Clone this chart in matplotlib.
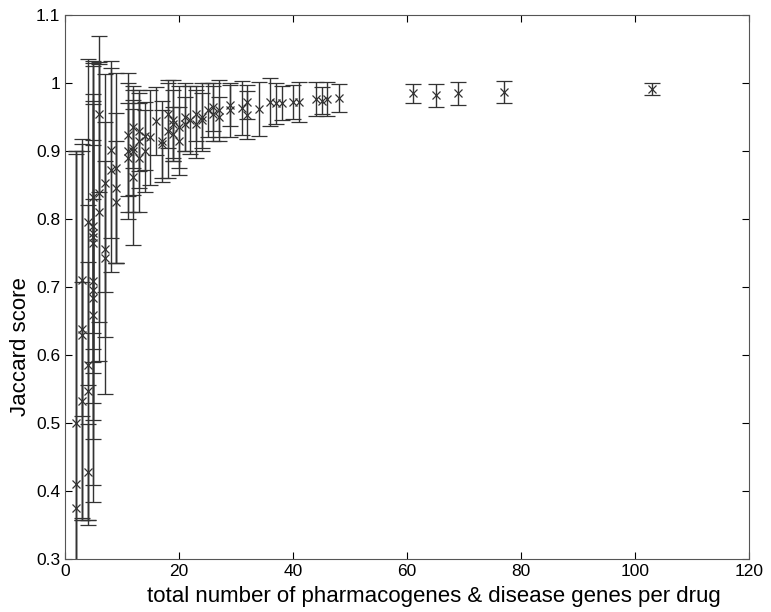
import matplotlib.pyplot as plt
from matplotlib.ticker import FuncFormatter

# total number of genes per drug, Jaccard score, error (half-width)
n_genes = [2, 2, 2,
           3, 3, 3, 3,
           4, 4, 4, 4,
           5, 5, 5, 5, 5, 5, 5, 5, 5,
           6, 6, 6,
           7, 7, 7,
           8, 8,
           9, 9, 9,
           11, 11, 11,
           12, 12, 12, 12,
           13, 13, 13,
           14, 14,
           15,
           16,
           17, 17,
           18, 18,
           19, 19, 19,
           20, 20,
           21, 21,
           22,
           23, 23,
           24, 24,
           25,
           26, 26,
           27, 27,
           29, 29,
           31,
           32, 32,
           34, 36, 37, 38, 40, 41, 44, 45, 46, 48,
           61, 65, 69, 77, 103]
jaccard = [0.375, 0.41, 0.50,
           0.532, 0.63, 0.638, 0.71,
           0.428, 0.547, 0.585, 0.796,
           0.659, 0.684, 0.696, 0.709, 0.765, 0.773, 0.78, 0.789, 0.833,
           0.811, 0.838, 0.954,
           0.743, 0.756, 0.853,
           0.872, 0.902,
           0.825, 0.846, 0.875,
           0.89, 0.90, 0.924,
           0.862, 0.90, 0.905, 0.935,
           0.89, 0.915, 0.93,
           0.922, 0.90,
           0.92,
           0.944,
           0.914, 0.91,
           0.955, 0.93,
           0.945, 0.925, 0.94,
           0.915, 0.935,
           0.95, 0.94,
           0.945,
           0.955, 0.94,
           0.945, 0.95,
           0.96,
           0.965, 0.955,
           0.95, 0.96,
           0.967, 0.96,
           0.963,
           0.972, 0.953,
           0.962, 0.972, 0.97, 0.97, 0.972, 0.972, 0.976, 0.974, 0.976, 0.978,
           0.985, 0.982, 0.985, 0.987, 0.991]
err = [0.52, 0.49, 0.40,
       0.175, 0.27, 0.28, 0.20,
       0.07, 0.19, 0.235, 0.24,
       0.25, 0.30, 0.22, 0.12, 0.26, 0.20, 0.25, 0.18, 0.20,
       0.22, 0.19, 0.115,
       0.20, 0.13, 0.16,
       0.15, 0.13,
       0.09, 0.11, 0.14,
       0.08, 0.10, 0.09,
       0.10, 0.09, 0.07, 0.06,
       0.08, 0.07, 0.06,
       0.05, 0.06,
       0.07,
       0.05,
       0.06, 0.05,
       0.05, 0.07,
       0.06, 0.04, 0.05,
       0.05, 0.06,
       0.05, 0.04,
       0.05,
       0.04, 0.05,
       0.04, 0.05,
       0.04,
       0.035, 0.04,
       0.03, 0.045,
       0.03, 0.04,
       0.04,
       0.025, 0.035,
       0.04, 0.035, 0.03, 0.025, 0.025, 0.03, 0.025, 0.02, 0.025, 0.02,
       0.014, 0.017, 0.017, 0.016, 0.009]

plt.rcParams['font.family'] = ['Liberation Sans', 'DejaVu Sans']

fig = plt.figure(figsize=(7.71, 6.12), dpi=100)
ax = fig.add_axes([0.0843, 0.0866, 0.8872, 0.8889])

ax.errorbar(n_genes, jaccard, yerr=err, fmt='x', color='#333333',
            ecolor='#333333', elinewidth=1, capsize=5.5, capthick=1,
            markersize=6, markeredgewidth=0.9)

ax.set_xlim(0, 120)
ax.set_ylim(0.3, 1.1)
ax.set_xticks(range(0, 121, 20))
ax.set_yticks([0.3, 0.4, 0.5, 0.6, 0.7, 0.8, 0.9, 1.0, 1.1])
ax.yaxis.set_major_formatter(FuncFormatter(lambda v, p: f"{v:g}"))
ax.tick_params(direction='in', top=True, right=True, labelsize=12.5, length=5)
for s in ax.spines.values():
    s.set_color('#555555')

ax.set_xlabel('total number of pharmacogenes & disease genes per drug', fontsize=16)
ax.xaxis.set_label_coords(0.54, -0.05, transform=ax.transAxes)
ax.set_ylabel('Jaccard score', fontsize=16)
ax.yaxis.set_label_coords(-0.05, 0.39, transform=ax.transAxes)

fig.savefig('out.png', dpi=100)
